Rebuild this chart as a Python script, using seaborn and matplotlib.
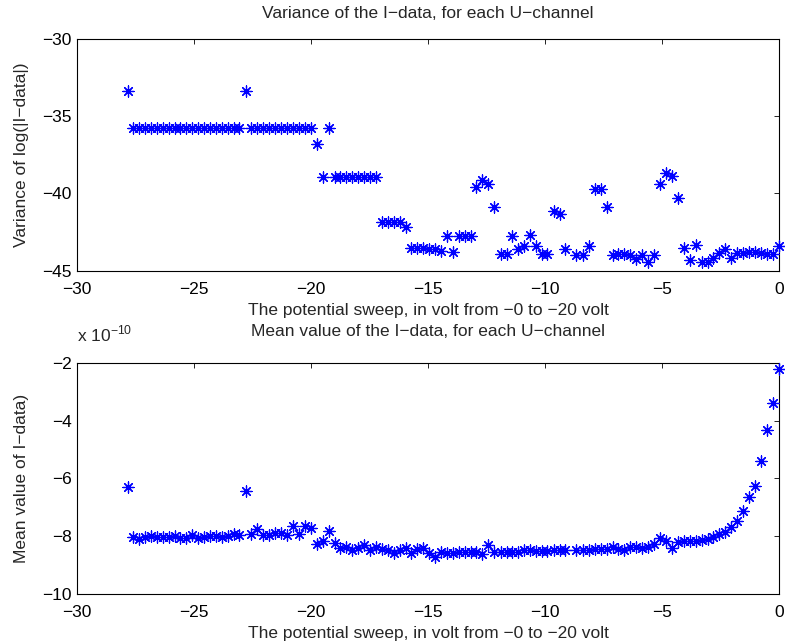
import matplotlib
matplotlib.use("Agg")
import matplotlib.pyplot as plt
import pandas as pd
import seaborn as sns

# U-channel voltages
u_volt = [
    -27.82,
    -27.58, -27.33, -27.08, -26.83, -26.57, -26.32, -26.07, -25.82, -25.57, -25.32,
    -25.06, -24.81, -24.56, -24.31, -24.06, -23.81, -23.55, -23.30, -23.05,
    -22.79,
    -22.54, -22.29, -22.03, -21.78, -21.53, -21.27, -21.02, -20.76, -20.51, -20.25, -20.00,
    -19.74, -19.49, -19.24,
    -18.99, -18.74, -18.49, -18.24, -17.99, -17.74, -17.49, -17.22,
    -16.95, -16.71, -16.47, -16.21, -15.95,
    -15.71, -15.47, -15.21, -14.96, -14.70, -14.46,
    -14.19, -13.93, -13.67, -13.43, -13.18, -12.93, -12.68, -12.42, -12.17, -11.87,
    -11.63, -11.41, -11.15, -10.90, -10.64, -10.40, -10.14, -9.90, -9.62, -9.37, -9.13,
    -8.66, -8.40, -8.12, -7.88, -7.62, -7.36, -7.12, -6.88, -6.62, -6.37, -6.11,
    -5.86, -5.60, -5.35, -5.08, -4.85, -4.59, -4.32,
    -4.07, -3.82, -3.56, -3.32, -3.06, -2.82, -2.56, -2.31, -2.07, -1.81, -1.56,
    -1.30, -1.04, -0.79, -0.53, -0.28, 0.00,
]

# variance of log(|I-data|)
var_log = [
    -33.40,
    -35.75, -35.75, -35.75, -35.75, -35.75, -35.75, -35.75, -35.75, -35.75, -35.75,
    -35.75, -35.75, -35.75, -35.75, -35.75, -35.75, -35.75, -35.75, -35.75,
    -33.40,
    -35.75, -35.75, -35.75, -35.75, -35.75, -35.75, -35.75, -35.75, -35.75, -35.75, -35.75,
    -36.78, -38.97, -35.75,
    -38.95, -38.95, -38.95, -38.95, -38.95, -38.95, -38.95, -38.95,
    -41.84, -41.84, -41.84, -41.86, -42.16,
    -43.50, -43.52, -43.55, -43.58, -43.60, -43.75,
    -42.74, -43.80, -42.74, -42.74, -42.74, -39.56, -39.15, -39.42, -40.85, -43.92,
    -43.90, -42.77, -43.58, -43.42, -42.70, -43.38, -43.95, -43.95, -41.15, -41.36, -43.62,
    -44.00, -44.00, -43.42, -39.73, -39.69, -40.91, -44.00, -43.95, -43.95, -44.00, -44.27,
    -44.00, -44.45, -44.00, -39.40, -38.66, -38.85, -40.30,
    -43.50, -44.30, -43.35, -44.42, -44.42, -44.16, -43.88, -43.60, -44.16, -43.88, -43.84,
    -43.78, -43.78, -43.88, -43.92, -43.95, -43.39,
]

# mean value of I-data, in units of 1e-10
mean_e10 = [
    -6.30,
    -8.01, -8.11, -8.03, -7.98, -8.03, -8.03, -8.03, -8.00, -8.06, -8.07,
    -7.95, -8.06, -8.01, -8.00, -7.98, -8.03, -8.00, -7.92, -7.95,
    -6.44,
    -7.92, -7.75, -7.95, -7.95, -7.89, -7.89, -7.95, -7.66, -7.92, -7.63, -7.71,
    -8.26, -8.17, -7.83,
    -8.24, -8.41, -8.36, -8.49, -8.40, -8.30, -8.47, -8.38,
    -8.44, -8.49, -8.59, -8.49, -8.41,
    -8.59, -8.44, -8.41, -8.57, -8.71, -8.55,
    -8.59, -8.59, -8.55, -8.55, -8.55, -8.55, -8.63, -8.29, -8.55, -8.55,
    -8.55, -8.55, -8.53, -8.49, -8.49, -8.52, -8.52, -8.52, -8.47, -8.47, -8.47,
    -8.49, -8.47, -8.46, -8.44, -8.44, -8.44, -8.38, -8.44, -8.46, -8.38, -8.38,
    -8.40, -8.38, -8.26, -8.06, -8.15, -8.40, -8.21,
    -8.18, -8.15, -8.15, -8.12, -8.09, -8.03, -7.92, -7.86, -7.69, -7.46, -7.11,
    -6.65, -6.25, -5.40, -4.34, -3.40, -2.21,
]

x_ticks = [-30, -25, -20, -15, -10, -5, 0]
var_ticks = [-45, -40, -35, -30]
mean_ticks = [-10, -8, -6, -4, -2]

df = pd.DataFrame({"U": u_volt, "var": var_log, "mean": mean_e10})

sns.set_style("white")
plt.rcParams["font.family"] = ["Liberation Sans", "DejaVu Sans"]
plt.rcParams["mathtext.fontset"] = "custom"
plt.rcParams["mathtext.rm"] = "Liberation Sans"
plt.rcParams["axes.unicode_minus"] = True

FS = 12.5

fig = plt.figure(figsize=(7.85, 6.44), dpi=100)
ax1 = fig.add_axes([0.0977, 0.5796, 0.8950, 0.3604])
ax2 = fig.add_axes([0.0977, 0.0776, 0.8950, 0.3590])

for ax, col, yt in [(ax1, "var", var_ticks), (ax2, "mean", mean_ticks)]:
    sns.scatterplot(data=df, x="U", y=col, ax=ax, marker=(8, 2, 0), s=64,
                    color="#0000ff", linewidth=0.9, clip_on=False, zorder=3)
    ax.set_xlim(-30, 0)
    ax.set_ylim(yt[0], yt[-1])
    ax.set_xticks(x_ticks)
    ax.set_yticks(yt)
    for sp in ax.spines.values():
        sp.set_visible(True)
        sp.set_color("black")
        sp.set_linewidth(0.8)
    ax.tick_params(axis="both", direction="in", length=3.6, width=0.6,
                   top=True, right=True, labelsize=FS, colors="black")
    ax.tick_params(axis="x", pad=8.0)
    ax.tick_params(axis="y", pad=3.6)
    ax.set_xlabel("The potential sweep, in volt from \u22120 to \u221220 volt", fontsize=FS)
    ax.xaxis.set_label_coords(0.5, -0.172)
    ax.xaxis.label.set_va("center")

ax1.set_ylabel("Variance of log(|I\u2212data|)", fontsize=FS)
ax2.set_ylabel("Mean value of I\u2212data)", fontsize=FS)
for ax in (ax1, ax2):
    ax.yaxis.set_label_coords(-0.078, 0.5)
    ax.yaxis.label.set_va("center")

ax1.set_title("Variance of the I\u2212data, for each U\u2212channel", fontsize=FS,
              pad=0, y=1.11, va="center")
ax2.set_title("Mean value of the I\u2212data, for each U\u2212channel", fontsize=FS,
              pad=0, y=1.135, va="center")
ax2.text(0.0, 1.092, r"x 10$^{\mathregular{-10}}$", transform=ax2.transAxes,
         ha="left", va="baseline", fontsize=FS)

fig.savefig("out.png", dpi=100)
